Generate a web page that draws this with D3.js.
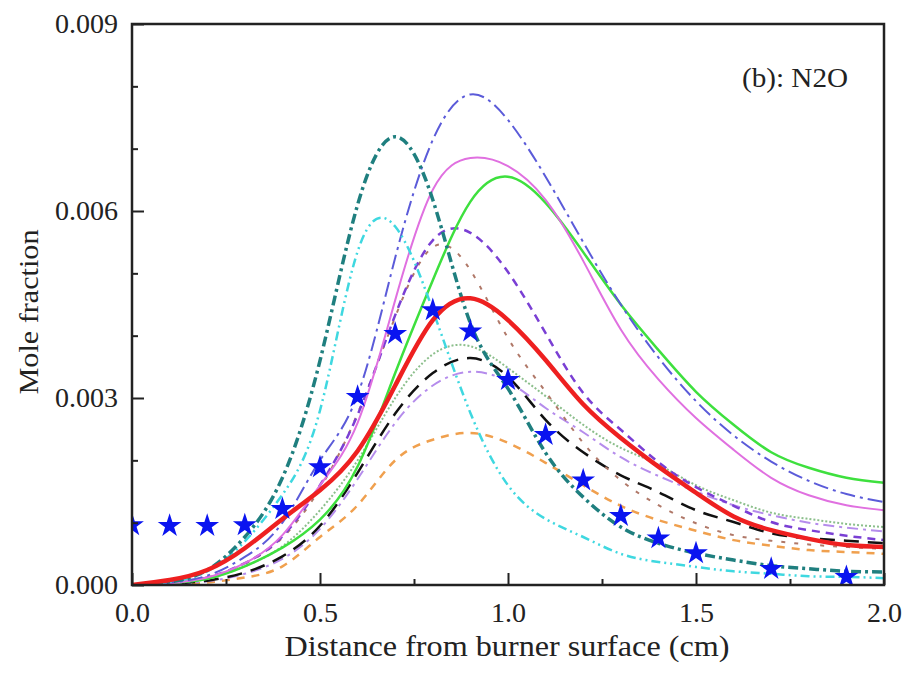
<!DOCTYPE html>
<html><head><meta charset="utf-8">
<script src="https://cdn.jsdelivr.net/npm/d3@7"></script>
<style>
html,body{margin:0;padding:0;background:#fff;}
svg{display:block;}
text{font-family:"Liberation Serif","Times New Roman",serif;fill:#222;}
</style></head>
<body>
<svg id="chart" width="905" height="680"></svg>
<script>
// Distance (cm) grid shared by all model curves
const xGrid = [0,0.1,0.2,0.3,0.4,0.5,0.6,0.7,0.8,0.9,1.0,1.1,1.2,1.3,1.4,1.5,1.6,1.7,1.8,1.9,2.0];
// Model curves, mole fraction in units of 1e-3
const tealDashDot   = [0,0.05,0.24,0.77,1.72,3.6,6.1,7.19,6.18,4.2,3.15,2.12,1.41,0.93,0.67,0.51,0.40,0.31,0.26,0.22,0.21];
const cyanDashDotDot= [0,0.05,0.22,0.7,1.45,2.8,5.35,5.75,4.41,2.76,1.6,1.06,0.77,0.50,0.37,0.29,0.22,0.18,0.14,0.13,0.11];
const blueDashDot   = [0,0.04,0.15,0.45,1.0,2.0,3.05,5.25,7.14,7.87,7.46,6.55,5.5,4.5,3.65,2.95,2.4,1.98,1.67,1.46,1.33];
const magentaSolid  = [0,0.03,0.12,0.35,0.8,1.6,2.6,4.57,6.34,6.85,6.72,6.18,5.2,4.1,3.3,2.68,2.17,1.72,1.44,1.28,1.20];
const greenSolid    = [0,0.03,0.1,0.3,0.6,1.05,1.9,3.4,4.89,6.15,6.55,6.13,5.34,4.50,3.77,3.10,2.57,2.13,1.88,1.72,1.64];
const purpleDash    = [0,0.03,0.12,0.35,0.78,1.6,2.73,4.33,5.53,5.65,5.02,4.04,3.08,2.49,1.97,1.57,1.27,1.01,0.88,0.79,0.72];
const brownDot      = [0,0.03,0.12,0.34,0.76,1.55,2.75,4.3,5.42,5.05,3.96,3.10,2.28,1.68,1.28,0.99,0.80,0.71,0.65,0.61,0.58];
const redSolid      = [0,0.08,0.24,0.59,1.06,1.52,2.15,3.2,4.25,4.6,4.25,3.61,2.9,2.36,1.9,1.48,1.10,0.88,0.74,0.64,0.61];
const lightGreenDot = [0,0.03,0.1,0.3,0.62,1.2,2.0,3.0,3.7,3.83,3.48,3.03,2.57,2.20,1.93,1.60,1.36,1.16,1.06,0.98,0.93];
const blackDash     = [0,0.02,0.07,0.2,0.46,0.95,1.8,2.75,3.4,3.64,3.34,2.65,2.13,1.76,1.49,1.20,1.01,0.83,0.75,0.71,0.67];
const lavenderDashDot=[0,0.02,0.06,0.18,0.42,0.9,1.7,2.6,3.2,3.42,3.26,2.84,2.45,2.05,1.75,1.5,1.28,1.12,1.0,0.92,0.86];
const orangeDash    = [0,0.01,0.04,0.12,0.3,0.77,1.28,2.0,2.33,2.44,2.28,1.96,1.60,1.27,1.04,0.87,0.72,0.63,0.56,0.53,0.50];
// Experimental points
const expX = [0,0.1,0.2,0.3,0.4,0.5,0.6,0.7,0.8,0.9,1.0,1.1,1.2,1.3,1.4,1.5,1.7,1.9];
const expY = [0.96,0.95,0.95,0.96,1.22,1.89,3.02,4.03,4.41,4.07,3.29,2.41,1.68,1.11,0.75,0.51,0.26,0.13];
// Axis ticks
const xTicks = [0,0.5,1.0,1.5,2.0];
const xMinor = [0.25,0.75,1.25,1.75];
const yTicks = [0,0.003,0.006,0.009];
const yMinor = [0.001,0.002,0.004,0.005,0.007,0.008];
const UNIT = 1e-3;

const series = [
  {v: orangeDash,      c:"#f0a04e", w:2.5, d:"8,7"},
  {v: lavenderDashDot, c:"#b58cec", w:2,   d:"11,5,3,5"},
  {v: blackDash,       c:"#111111", w:2.5, d:"15,9"},
  {v: lightGreenDot,   c:"#8cbf8c", w:2,   d:"2,2"},
  {v: brownDot,        c:"#b07868", w:2,   d:"4,9"},
  {v: purpleDash,      c:"#7a3fd4", w:2.5, d:"8,6"},
  {v: greenSolid,      c:"#3ee03e", w:2.5, d:null},
  {v: magentaSolid,    c:"#e070e0", w:2,   d:null},
  {v: blueDashDot,     c:"#5b5bd9", w:2,   d:"15,5,3,5"},
  {v: cyanDashDotDot,  c:"#3fd8e0", w:2.5, d:"9,4,2,4,2,4"},
  {v: tealDashDot,     c:"#1f7f7f", w:3.5, d:"10,4,3,4"},
  {v: redSolid,        c:"#ee2020", w:4.5, d:null}
];

const svg = d3.select("#chart");
const L=132, R=884, T=24, B=585;
const x = d3.scaleLinear().domain([0,2]).range([L,R]);
const y = d3.scaleLinear().domain([0,0.009]).range([B,T]);

svg.append("defs").append("clipPath").attr("id","clip")
  .append("rect").attr("x",L).attr("y",T).attr("width",R-L).attr("height",B-T);

const g = svg.append("g").attr("clip-path","url(#clip)");
const line = d3.line().x(d=>x(d[0])).y(d=>y(d[1]*UNIT)).curve(d3.curveNatural);

series.forEach(s=>{
  g.append("path")
    .attr("d", line(xGrid.map((xx,i)=>[xx,s.v[i]])))
    .attr("fill","none").attr("stroke",s.c).attr("stroke-width",s.w)
    .attr("stroke-dasharray",s.d).attr("stroke-linecap","butt").attr("stroke-linejoin","round");
});

g.selectAll(".star").data(expX.map((xx,i)=>[xx,expY[i]])).enter().append("path")
  .attr("transform",d=>`translate(${x(d[0])},${y(d[1]*UNIT)})`)
  .attr("d", d3.symbol().type(d3.symbolStar).size(175)())
  .attr("fill","#0a14f0");

// Axes
const fmtX = d3.format(".1f"), fmtY = d3.format(".3f");
const ax = svg.append("g").attr("transform",`translate(0,${B})`)
  .call(d3.axisBottom(x).tickValues(xTicks).tickSize(-12).tickPadding(10).tickFormat(fmtX));
svg.append("g").attr("transform",`translate(0,${B})`)
  .call(d3.axisBottom(x).tickValues(xMinor).tickSize(-6).tickFormat(""));
const ay = svg.append("g").attr("transform",`translate(${L},0)`)
  .call(d3.axisLeft(y).tickValues(yTicks).tickSize(-12).tickPadding(14).tickFormat(fmtY));
svg.append("g").attr("transform",`translate(${L},0)`)
  .call(d3.axisLeft(y).tickValues(yMinor).tickSize(-6).tickFormat(""));
svg.selectAll(".domain").remove();
svg.selectAll(".tick line").attr("stroke","#222").attr("stroke-width",2);
svg.selectAll(".tick text").attr("font-size",28).attr("font-family","Liberation Serif, serif").attr("fill","#222");
ax.selectAll(".tick text").attr("dy","0.95em");

// frame
svg.append("rect").attr("x",L).attr("y",T).attr("width",R-L).attr("height",B-T)
  .attr("fill","none").attr("stroke","#222").attr("stroke-width",2.5);

svg.append("text").attr("x",507).attr("y",656).attr("text-anchor","middle")
  .attr("font-size",29).attr("textLength",445).attr("lengthAdjust","spacingAndGlyphs")
  .text("Distance from burner surface (cm)");
svg.append("text").attr("transform",`translate(38,312) rotate(-90)`).attr("text-anchor","middle")
  .attr("font-size",28).attr("textLength",165).attr("lengthAdjust","spacingAndGlyphs")
  .text("Mole fraction");
svg.append("text").attr("x",742).attr("y",87)
  .attr("font-size",27).attr("textLength",106).attr("lengthAdjust","spacingAndGlyphs")
  .text("(b): N2O");
</script>
</body></html>
